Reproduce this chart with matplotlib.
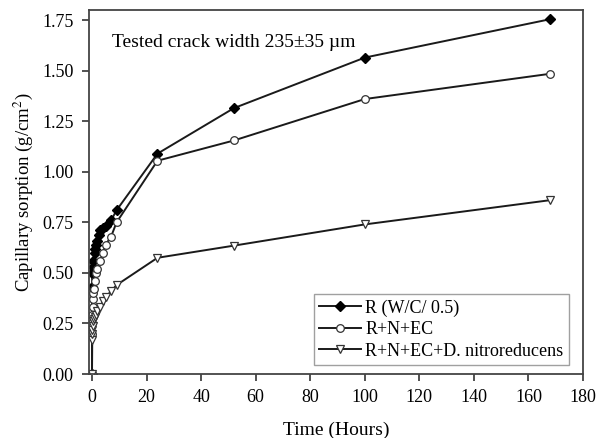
import matplotlib
matplotlib.use("Agg")
import matplotlib.pyplot as plt
from matplotlib.ticker import FormatStrFormatter

plt.rcParams['font.family'] = ['Liberation Serif', 'DejaVu Serif']
plt.rcParams['mathtext.fontset'] = 'stix'

# Data
t_r = [0, 0, 0.08, 0.25, 0.5, 1, 1.25, 1.5, 2, 2.5, 3, 4, 5, 7, 9, 24, 52, 100, 168]
v_r = [0, 0.43, 0.50, 0.53, 0.56, 0.60, 0.62, 0.64, 0.66, 0.69, 0.71, 0.72, 0.73, 0.76, 0.81, 1.09, 1.315, 1.565, 1.755]

t_n = [0, 0.05, 0.1, 0.17, 0.25, 0.33, 0.5, 0.75, 1, 1.5, 2, 3, 4, 5, 7, 9, 24, 52, 100, 168]
v_n = [0, 0.20, 0.25, 0.29, 0.33, 0.37, 0.40, 0.42, 0.46, 0.50, 0.52, 0.56, 0.60, 0.64, 0.68, 0.75, 1.055, 1.155, 1.36, 1.485]

t_d = [0, 0.05, 0.1, 0.17, 0.25, 0.5, 0.75, 1, 1.5, 2, 3, 4, 5, 7, 9, 24, 52, 100, 168]
v_d = [0, 0.17, 0.20, 0.22, 0.24, 0.26, 0.27, 0.28, 0.29, 0.31, 0.33, 0.36, 0.38, 0.41, 0.44, 0.575, 0.635, 0.74, 0.86]

labels = ['R (W/C/ 0.5)', 'R+N+EC', 'R+N+EC+D. nitroreducens']
xticks = list(range(0, 181, 20))
yticks = [0.00, 0.25, 0.50, 0.75, 1.00, 1.25, 1.50, 1.75]

fig = plt.figure(figsize=(5.99, 4.38), dpi=100)
ax = fig.add_axes([0.1486, 0.146, 0.8247, 0.831])

lc = '#1a1a1a'
ax.plot(t_r, v_r, color=lc, lw=1.4, marker='D', ms=5, mfc='black', mec='black', label=labels[0])
ax.plot(t_n, v_n, color=lc, lw=1.4, marker='o', ms=5.5, mfc='white', mec='#333333', mew=0.9, label=labels[1])
ax.plot(t_d, v_d, color=lc, lw=1.4, marker='v', ms=6, mfc='white', mec='#333333', mew=0.9, label=labels[2])

ax.set_xlim(-1.1, 180)
ax.set_ylim(0, 1.80)
ax.set_xticks(xticks)
ax.set_yticks(yticks)
ax.yaxis.set_major_formatter(FormatStrFormatter('%.2f'))
ax.tick_params(direction='out', length=5, width=1.2, labelsize=13, color='#333333', pad=6)
for s in ax.spines.values():
    s.set_linewidth(1.3)
    s.set_color('#444444')

ax.set_xlabel('Time (Hours)', fontsize=14, labelpad=11)
ax.set_ylabel('Capillary sorption (g/cm$^2$)', fontsize=13.5, labelpad=5)

ax.text(7.3, 1.64, 'Tested crack width 235±35 µm', fontsize=14, va='center', ha='left')

leg = ax.legend(loc='lower right', bbox_to_anchor=(0.99, 0.0), fontsize=13,
                frameon=True, fancybox=False, edgecolor='#888888', handlelength=2.3,
                borderpad=0.3, labelspacing=0.25, handletextpad=0.25)
leg.get_frame().set_linewidth(1.0)

fig.savefig('out.png', dpi=100)
